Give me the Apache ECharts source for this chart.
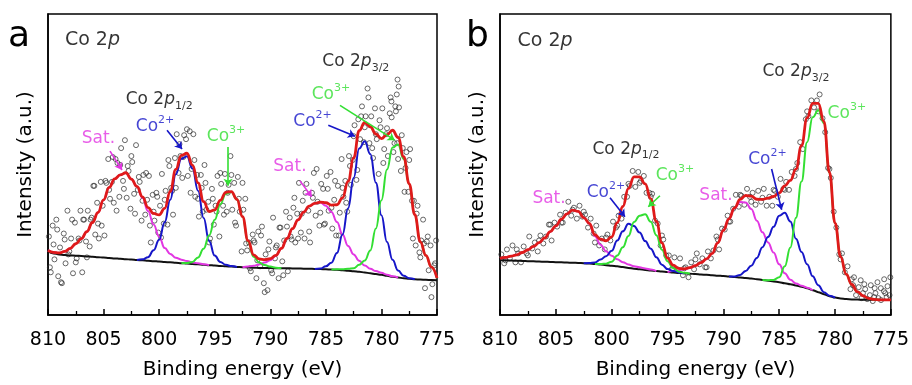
<!DOCTYPE html>
<html>
<head>
<meta charset="utf-8">
<script src="https://cdn.jsdelivr.net/npm/echarts@6/dist/echarts.min.js"></script>
<style>
  html, body { margin: 0; padding: 0; background: #fff; }
  #chart { width: 912px; height: 385px; }
</style>
</head>
<body>
<div id="chart"></div>
<script>
// Binding-energy grid shared by both fits (eV, high to low)
const energy = [
  810, 809.5, 809, 808.5, 808, 807.5, 807, 806.5, 806, 805.5,
  805, 804.5, 804, 803.5, 803, 802.5, 802, 801.5, 801, 800.5,
  800, 799.5, 799, 798.5, 798, 797.5, 797, 796.5, 796, 795.5,
  795, 794.5, 794, 793.5, 793, 792.5, 792, 791.5, 791, 790.5,
  790, 789.5, 789, 788.5, 788, 787.5, 787, 786.5, 786, 785.5,
  785, 784.5, 784, 783.5, 783, 782.5, 782, 781.5, 781, 780.5,
  780, 779.5, 779, 778.5, 778, 777.5, 777, 776.5, 776, 775.5,
  775
];

// ---- Sample a: Shirley background and fitted component heights above it ----
const bgA = [
  64, 62, 61, 60.5, 60, 59.7, 59.4, 59, 58.6, 58.2,
  57.8, 57.4, 57, 56.6, 56.2, 55.8, 55.4, 55, 54.6, 54.2,
  53.8, 53.4, 53, 52.6, 52.2, 51.8, 51.4, 51, 50.6, 50.2,
  49.8, 49.4, 49, 48.7, 48.4, 48.1, 47.8, 47.6, 47.4, 47.3,
  47.2, 47.1, 47, 47, 46.9, 46.8, 46.6, 46.5, 46.4, 46.2,
  46, 45.7, 45.5, 45, 44.5, 44, 43.5, 42.8, 42, 41.2,
  40.5, 39.5, 38.5, 37.7, 37, 36.5, 36, 35.7, 35.5, 35.2,
  35
];
const satA = [
  1, 1, 1.5, 3.5, 7, 12, 17.5, 25, 34.5, 45,
  58, 71, 80, 84.5, 87, 81, 74, 63, 50, 37,
  25, 14, 8.5, 5, 3.5, 2.5, 1.5, 1, 0.5, 0,
  0, 0, 0, 0, 0, 0, 1, 2, 3.5, 5.5,
  8, 12.5, 20, 30, 40, 49, 57, 63, 66, 67,
  64, 58, 48, 36, 25, 17, 11, 7, 4.5, 3,
  2, 1, 0.5, 0, 0, 0, 0, 0, 0, 0,
  0
];
const co2A = [
  0, 0, 0, 0, 0, 0, 0, 0, 0, 0,
  0, 0, 0, 0, 0, 0, 0, 1, 3.5, 11,
  22, 40, 63, 89, 105, 108, 96, 74, 47, 24,
  10, 4, 1.5, 0.5, 0, 0, 0, 0, 0, 0,
  0, 0, 0, 0, 0, 0, 0, 0, 0, 0.5,
  3, 7, 17, 36, 63, 94, 124, 132, 120, 92,
  60, 34, 17, 7, 2.5, 0.5, 0, 0, 0, 0,
  0
];
const co3A = [
  0, 0, 0, 0, 0, 0, 0, 0, 0, 0,
  0, 0, 0, 0, 0, 0, 0, 0, 0, 0,
  0, 0, 0, 0, 0, 0.5, 2, 7, 16, 30,
  46, 62, 73, 75, 68, 51, 26, 11, 5.5, 3,
  1.5, 0.5, 0, 0, 0, 0, 0, 0, 0, 0,
  0, 0, 0.5, 1, 2, 3, 7, 12, 23, 46,
  75, 107, 130, 134, 120, 95, 65, 38, 24.5, 13,
  2
];
// Measured counts, sample a [eV, intensity]
const scanA = [
  [809.92,79],[809.75,43],[809.58,90],[809.42,56],[809.25,96],[809.08,39],
  [808.92,68],[808.75,32],[808.58,82],[808.42,52],[808.25,105],[808.08,64],
  [807.92,77],[807.75,42],[807.58,93],[807.42,57],[807.25,77],[807.08,105],
  [806.92,43],[806.75,96],[806.58,74],[806.42,105],[806.25,69],[806.08,98],
  [805.92,130],[805.75,81],[805.58,113],[805.42,77],[805.25,134],[805.08,110],
  [804.92,80],[804.75,133],[804.58,157],[804.42,117],[804.25,134],[804.08,113],
  [803.92,157],[803.75,153],[803.58,119],[803.42,168],[803.25,135],[803.08,176],
  [802.92,118],[802.75,145],[802.58,107],[802.42,154],[802.25,122],[802.08,171],
  [801.92,126],[801.75,134],[801.58,95],[801.42,141],[801.25,101],[801.08,116],
  [800.92,140],[800.75,73],[800.58,121],[800.42,95],[800.25,123],[800.08,83],
  [799.92,110],[799.75,142],[799.58,92],[799.42,125],[799.25,91],[799.08,150],
  [798.92,128],[798.75,101],[798.58,158],[798.42,182],[798.25,143],[798.08,160],
  [797.92,138],[797.75,181],[797.58,177],[797.42,140],[797.25,185],[797.08,147],
  [796.92,182],[796.75,119],[796.58,141],[796.42,99],[796.25,141],[796.08,104],
  [795.92,151],[795.75,106],[795.58,114],[795.42,77],[795.25,127],[795.08,91],
  [794.92,110],[794.75,140],[794.58,79],[794.42,132],[794.25,110],[794.08,142],
  [793.92,104],[793.75,131],[793.58,160],[793.42,106],[793.25,133],[793.08,90],
  [792.92,139],[792.75,104],[792.58,64],[792.42,106],[792.25,117],[792.08,65],
  [791.92,73],[791.75,44],[791.58,81],[791.42,73],[791.25,37],[791.08,84],
  [790.92,49],[790.75,89],[790.58,32],[790.42,61],[790.25,25],[790.08,74],
  [789.92,45],[789.75,98],[789.58,57],[789.42,70],[789.25,37],[789.08,88],
  [788.92,54],[788.75,75],[788.58,104],[788.42,44],[788.25,98],[788.08,76],
  [787.92,108],[787.75,73],[787.58,102],[787.42,133],[787.25,83],[787.08,115],
  [786.92,77],[786.75,132],[786.58,105],[786.42,73],[786.25,123],[786.08,143],
  [785.92,100],[785.75,114],[785.58,90],[785.42,132],[785.25,127],[785.08,92],
  [784.92,140],[784.75,105],[784.58,144],[784.42,87],[784.25,116],[784.08,80],
  [783.92,130],[783.75,103],[783.58,157],[783.42,119],[783.25,135],[783.08,104],
  [782.92,160],[782.75,131],[782.58,156],[782.42,191],[782.25,136],[782.08,197],
  [781.92,177],[781.75,210],[781.58,174],[781.42,200],[781.25,228],[781.08,173],
  [780.92,200],[780.75,158],[780.58,208],[780.42,177],[780.25,142],[780.08,189],
  [779.92,208],[779.75,167],[779.58,182],[779.42,160],[779.25,203],[779.08,199],
  [778.92,164],[778.75,210],[778.58,173],[778.42,209],[778.25,145],[778.08,168],
  [778.55,237],[778.62,222],[778.45,230],[779.1,215],[778.7,205],
  [777.92,124],[777.75,164],[777.58,124],[777.42,167],[777.25,115],[777.08,115],
  [776.92,70],[776.75,110],[776.58,63],[776.42,75],[776.25,96],[776.08,27],
  [775.92,74],[775.75,45],[775.58,70],[775.42,31],[775.25,50],[775.08,75],
  [809.83,48],[809.5,71],[809.17,86],[808.83,33],[808.5,76],[808.17,61],
  [807.83,96],[807.5,53],[807.17,75],[806.83,96],[806.5,58],[806.17,96],
  [805.83,130],[805.5,92],[805.17,90],[804.83,135],[804.5,126],[804.17,159],
  [803.83,105],[803.5,151],[803.17,127],[802.83,150],[802.5,160],[802.17,102],
  [801.83,139],[801.5,115],[801.17,143],[800.83,90],[800.5,104],[800.17,119],
  [799.83,78],[799.5,116],[799.17,156],[798.83,125],[798.5,128],[798.17,172],
  [797.83,159],[797.5,187],[797.17,123],[796.83,156],[796.5,117],[796.17,128],
  [795.83,133],[795.5,73],[795.17,117],[794.83,104],[794.5,143],[794.17,101],
  [793.83,123],[793.5,141],[793.17,93],[792.83,117],[792.5,133],[792.17,72],
  [791.83,47],[791.5,75],[791.17,55],[790.83,80],[790.5,23],[790.17,66],
  [789.83,42],[789.5,68],[789.17,88],[788.83,40],[788.5,89],[788.17,79],
  [787.83,118],[787.5,77],[787.17,102],[786.83,123],[786.5,84],[786.17,118],
  [785.83,147],[785.5,103],[785.17,91],[784.83,127],[784.5,108],[784.17,135],
  [783.83,80],[783.5,128],[783.17,113],[782.83,150],[782.5,180],[782.17,146],
  [781.83,200],[781.5,189],[781.17,219],[780.83,168],[780.5,182],[780.17,196],
  [779.83,153],[779.5,188],[779.17,219],[778.83,173],[778.5,157],[778.17,181],
  [777.83,148],[777.5,156],[777.17,77],[776.83,102],[776.5,58],[776.17,72],
  [775.83,79],[775.5,18],[775.17,52]
];

// ---- Sample b ----
const bgB = [
  55, 55, 54.8, 54.6, 54.4, 54.2, 54, 53.8, 53.6, 53.4,
  53.2, 53, 52.8, 52.6, 52.4, 52.1, 51.8, 51.3, 50.8, 50.2,
  49.6, 49, 48.2, 47.4, 46.6, 46, 45.4, 44.8, 44.2, 43.7,
  43.2, 42.8, 42.4, 42, 41.6, 41.2, 40.8, 40.4, 40, 39.6,
  39.2, 38.8, 38.3, 37.8, 37.3, 36.7, 36, 35.3, 34.6, 33.8,
  33, 32, 31, 29.8, 28.5, 27, 25, 23, 21, 19,
  17.5, 16.6, 16, 15.7, 15.5, 15.4, 15.3, 15.3, 15.2, 15.2,
  15.2
];
const satB = [
  2, 3, 4.5, 6, 8.5, 11.5, 15, 19, 24, 30.5,
  36.5, 43.5, 49, 53, 52, 46, 40, 28, 20, 14,
  10, 7, 5, 3.5, 2.5, 2, 1.5, 1, 0, 0,
  0, 1.5, 2.5, 4, 6, 8.5, 12, 16, 22, 33,
  46, 58, 69, 76, 76, 70, 59, 48, 38.5, 29,
  18, 10, 4.5, 2, 1, 0.5, 0, 0, 0, 0,
  0, 0, 0, 0, 0, 0, 0, 0, 0, 0,
  0
];
const co2B = [
  0, 0, 0, 0, 0, 0, 0, 0, 0, 0,
  0, 0, 0, 0, 0, 0, 0.5, 1.5, 5, 9,
  15, 26, 36, 44.5, 43, 37, 29, 22, 14, 7,
  3, 1.5, 0.5, 0, 0, 0, 0, 0, 0, 0,
  0, 0, 0.5, 2.5, 7, 13, 21.5, 33, 44, 55,
  67, 71, 63, 47, 35, 24, 14, 7, 2, 0.5,
  0, 0, 0, 0, 0, 0, 0, 0, 0, 0,
  0
];
const co3B = [
  0, 0, 0, 0, 0, 0, 0, 0, 0, 0,
  0, 0, 0, 0, 0, 0, 0, 0, 0.5, 1.5,
  4, 11, 20, 32, 47, 54, 56, 49, 36, 22,
  11, 4.5, 1.5, 0.5, 0, 0, 0, 0, 0, 0,
  0, 0, 0, 0, 0, 0, 0, 0, 0.5, 1.5,
  5, 17, 37, 68, 106, 147, 174, 183, 172, 124,
  75, 42, 25, 15, 8, 4, 1.5, 0.5, 0, 0,
  0
];
const scanB = [
  [809.88,61],[809.62,52],[809.38,66],[809.12,57],
  [808.88,70],[808.62,53],[808.38,62],[808.12,53],
  [807.88,69],[807.62,62],[807.38,79],[807.12,67],
  [806.88,73],[806.62,64],[806.38,80],[806.12,72],
  [805.88,79],[805.62,91],[805.38,75],[805.12,93],
  [804.88,89],[804.62,101],[804.38,93],[804.12,103],
  [803.88,114],[803.62,100],[803.38,108],[803.12,97],
  [802.88,110],[802.62,99],[802.38,101],[802.12,88],
  [801.88,97],[801.62,82],[801.38,90],[801.12,70],
  [800.88,77],[800.62,66],[800.38,81],[800.12,75],
  [799.88,94],[799.62,88],[799.38,100],[799.12,97],
  [798.88,119],[798.62,119],[798.38,130],[798.12,145],
  [797.88,129],[797.62,144],[797.38,135],[797.12,140],
  [796.88,123],[796.62,123],[796.38,122],[796.12,95],
  [795.88,92],[795.62,70],[795.38,76],[795.12,60],
  [794.88,60],[794.62,46],[794.38,58],[794.12,46],
  [793.88,57],[793.62,40],[793.38,48],[793.12,38],
  [792.88,53],[792.62,46],[792.38,62],[792.12,51],
  [791.88,57],[791.62,48],[791.38,64],[791.12,57],
  [790.88,65],[790.62,79],[790.38,66],[790.12,87],
  [789.88,86],[789.62,100],[789.38,94],[789.12,107],
  [788.88,121],[788.62,109],[788.38,120],[788.12,111],
  [787.88,127],[787.62,119],[787.38,123],[787.12,111],
  [786.88,125],[786.62,114],[786.38,127],[786.12,110],
  [785.88,119],[785.62,110],[785.38,125],[785.12,119],
  [784.88,137],[784.62,127],[784.38,134],[784.12,126],
  [783.88,144],[783.62,140],[783.38,153],[783.12,174],
  [782.88,167],[782.62,197],[782.38,200],[782.12,216],
  [781.88,209],[781.62,216],[781.38,222],[781.12,198],
  [780.88,184],[780.62,148],[780.38,138],[780.12,104],
  [779.88,88],[779.62,61],[779.38,62],[779.12,43],
  [778.88,49],[778.62,26],[778.38,30],[778.12,20],
  [777.88,28],[777.62,17],[777.38,31],[777.12,16],
  [776.88,20],[776.62,14],[776.38,22],[776.12,17],
  [775.88,15],[775.62,24],[775.38,18],[775.12,20],
  [809.5,55],[808.5,66],[807.5,60],[806.5,75],[805.5,91],[804.5,93],[803.5,106],
  [802.5,104],[801.5,73],[800.5,78],[799.5,90],[798.5,132],[797.5,133],[796.5,119],
  [795.5,80],[794.5,46],[793.5,47],[792.5,56],[791.5,48],[790.5,76],[789.5,94],
  [788.5,121],[787.5,114],[786.5,118],[785.5,126],[784.5,126],[783.5,147],[782.5,205],
  [781.5,205],[780.5,147],[779.5,56],[778.5,36],[777.5,22],[776.5,18],[775.5,22],
  [777.7,35],[777.3,26],[776.8,30],[776.45,27],[776.2,33],[775.9,27],[775.6,36],
  [775.3,29],[775.05,38],[778.3,38]
];

// ---- Styling ----
const FONT = 'DejaVu Sans';
const RED = '#df1a1a', BLUE = '#1616c8', GREEN = '#33df33', MAGENTA = '#e236e2';

// Component curve = background + its own peak; hidden where the peak is absent
function componentData(bg, net) {
  return energy.map((e, i) => {
    const on = net[i] > 0 || (i > 0 && net[i - 1] > 0) || (i < net.length - 1 && net[i + 1] > 0);
    return [e, on ? bg[i] + net[i] : '-'];
  });
}
// Envelope = background + sum of every component
function envelopeData(bg, parts) {
  return energy.map((e, i) => [e, bg[i] + parts.reduce((s, p) => s + p[i], 0)]);
}

const rich = {
  h:  { fontSize: 19, fontFamily: FONT, color: '#000' },
  hi: { fontSize: 19, fontFamily: FONT, color: '#000', fontStyle: 'italic' },
  t:  { fontSize: 17, fontFamily: FONT, color: '#000', lineHeight: 24, verticalAlign: 'middle' },
  ti: { fontSize: 17, fontFamily: FONT, color: '#000', fontStyle: 'italic', lineHeight: 24, verticalAlign: 'middle' },
  sub:{ fontSize: 11, fontFamily: FONT, color: '#000', lineHeight: 12, verticalAlign: 'bottom' },
  m:  { fontSize: 17, fontFamily: FONT, color: MAGENTA },
  b:  { fontSize: 17, fontFamily: FONT, color: BLUE, lineHeight: 24, verticalAlign: 'middle' },
  bs: { fontSize: 11, fontFamily: FONT, color: BLUE, lineHeight: 12, verticalAlign: 'top' },
  g:  { fontSize: 17, fontFamily: FONT, color: GREEN, lineHeight: 24, verticalAlign: 'middle' },
  gs: { fontSize: 11, fontFamily: FONT, color: GREEN, lineHeight: 12, verticalAlign: 'top' }
};
const TXT = {
  co2p: '{h|Co 2}{hi|p}',
  p32: '{t|Co 2}{ti|p}{sub|3/2}',
  p12: '{t|Co 2}{ti|p}{sub|1/2}',
  sat: '{m|Sat.}',
  co2: '{b|Co}{bs|2+}',
  co3: '{g|Co}{gs|3+}'
};

// Annotation anchors in data units [eV, intensity]
const notesA = [
  ['co2p', 806.0, 277], ['p32', 782.3, 255], ['p12', 800.0, 217],
  ['sat', 805.46, 177.5], ['co2', 800.37, 190], ['co3', 793.98, 180],
  ['sat', 788.23, 149.5], ['co2', 786.2, 195], ['co3', 784.54, 221.5]
];
const arrowsA = [
  [MAGENTA, 804.42, 165, 803.34, 146], [BLUE, 799.29, 186, 797.94, 167],
  [GREEN, 793.8, 169, 793.8, 130], [MAGENTA, 787.33, 135, 786.27, 119],
  [BLUE, 784.78, 191, 782.38, 180], [GREEN, 783.73, 211, 778.8, 176]
];
const notesB = [
  ['co2p', 805.97, 275.5], ['p32', 783.5, 245], ['p12', 798.72, 167],
  ['co3', 778.94, 202.5], ['co2', 786.05, 156.5], ['sat', 790.66, 120.5],
  ['co3', 794.33, 140], ['co2', 800.51, 123.5], ['sat', 805.61, 117]
];
const arrowsB = [
  [BLUE, 785.68, 147, 784.78, 106], [GREEN, 795.68, 120, 796.72, 109],
  [BLUE, 800.15, 118, 798.81, 99]
];

function panelSeries(idx, bg, sat, co2, co3, scan, notes, arrows) {
  const lineBase = { type: 'line', xAxisIndex: idx, yAxisIndex: idx, showSymbol: false,
    smooth: 0.45, smoothMonotone: 'x', connectNulls: false, silent: true };
  const out = [
    { type: 'scatter', xAxisIndex: idx, yAxisIndex: idx, data: scan, symbol: 'circle', symbolSize: 5,
      itemStyle: { color: 'rgba(0,0,0,0)', borderColor: '#2e2e2e', borderWidth: 0.9 }, z: 1, silent: true },
    Object.assign({}, lineBase, { data: envelopeData(bg, []), lineStyle: { color: '#111', width: 2 }, z: 2 }),
    Object.assign({}, lineBase, { data: componentData(bg, sat), lineStyle: { color: MAGENTA, width: 2 }, z: 3 }),
    Object.assign({}, lineBase, { data: componentData(bg, co2), lineStyle: { color: BLUE, width: 2 }, z: 3 }),
    Object.assign({}, lineBase, { data: componentData(bg, co3), lineStyle: { color: GREEN, width: 2 }, z: 3 }),
    Object.assign({}, lineBase, { data: envelopeData(bg, [sat, co2, co3]), lineStyle: { color: RED, width: 2.8 }, z: 4 }),
    { type: 'scatter', xAxisIndex: idx, yAxisIndex: idx, symbolSize: 1, silent: true, z: 6,
      itemStyle: { color: 'rgba(0,0,0,0)' },
      data: notes.map(n => ({ value: [n[1], n[2]], label: { formatter: TXT[n[0]] } })),
      label: { show: true, position: 'inside', rich: rich } }
  ];
  [BLUE, GREEN, MAGENTA].forEach(col => {
    const list = arrows.filter(a => a[0] === col);
    if (!list.length) return;
    out.push({ type: 'lines', coordinateSystem: 'cartesian2d', xAxisIndex: idx, yAxisIndex: idx,
      symbol: ['none', 'arrow'], symbolSize: 7, silent: true, z: 6,
      lineStyle: { color: col, width: 1.6, opacity: 1 }, itemStyle: { color: col },
      data: list.map(a => ({ coords: [[a[1], a[2]], [a[3], a[4]]] })) });
  });
  return out;
}

function xAxis(idx) {
  return {
    gridIndex: idx, type: 'value', min: 775, max: 810, interval: 5, inverse: true,
    axisLine: { lineStyle: { color: '#000', width: 1.5 } },
    axisTick: { inside: true, length: 6, lineStyle: { color: '#000', width: 1.5 } },
    minorTick: { show: true, splitNumber: 2, length: 4, lineStyle: { color: '#000', width: 1.3 } },
    splitLine: { show: false },
    axisLabel: { fontSize: 19, color: '#000', fontFamily: FONT, margin: 16 },
    name: 'Binding energy (eV)', nameLocation: 'middle', nameGap: 45,
    nameTextStyle: { fontSize: 20, color: '#000', fontFamily: FONT }
  };
}
function yAxis(idx) {
  return {
    gridIndex: idx, type: 'value', min: 0, max: 303,
    axisLine: { show: true, lineStyle: { color: '#000', width: 1.5 } },
    axisTick: { show: false }, axisLabel: { show: false }, splitLine: { show: false },
    name: 'Intensity (a.u.)', nameLocation: 'middle', nameGap: 12,
    nameTextStyle: { fontSize: 20, color: '#000', fontFamily: FONT }
  };
}

const chart = echarts.init(document.getElementById('chart'), null, { renderer: 'canvas' });
chart.setOption({
  animation: false,
  backgroundColor: '#fff',
  grid: [
    { left: 48, right: 475, top: 14, bottom: 68, show: true, borderColor: '#000', borderWidth: 1.5 },
    { left: 500, right: 21, top: 14, bottom: 68, show: true, borderColor: '#000', borderWidth: 1.5 }
  ],
  xAxis: [xAxis(0), xAxis(1)],
  yAxis: [yAxis(0), yAxis(1)],
  graphic: [
    { type: 'text', left: 8, top: 19, style: { text: 'a', font: '36px "DejaVu Sans"', fill: '#000' } },
    { type: 'text', left: 466, top: 19, style: { text: 'b', font: '36px "DejaVu Sans"', fill: '#000' } }
  ],
  series: [].concat(
    panelSeries(0, bgA, satA, co2A, co3A, scanA, notesA, arrowsA),
    panelSeries(1, bgB, satB, co2B, co3B, scanB, notesB, arrowsB)
  )
});
</script>
</body>
</html>
